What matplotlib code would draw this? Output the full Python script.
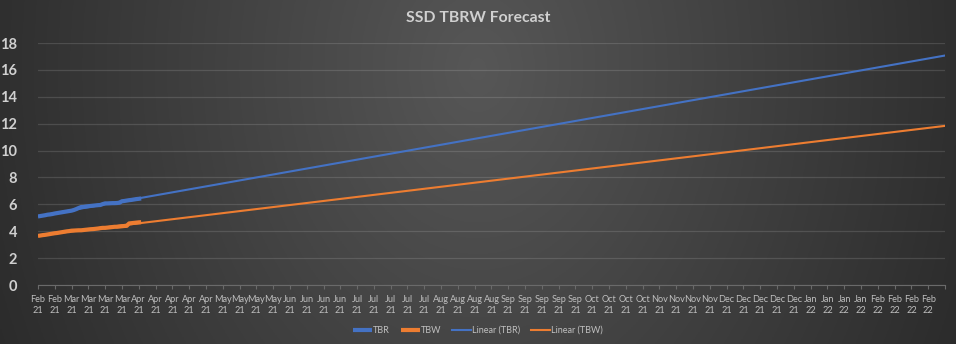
import matplotlib
matplotlib.use("Agg")
import matplotlib.pyplot as plt
import numpy as np
import pandas as pd

plt.rcParams["font.family"] = ["Lato", "DejaVu Sans"]

# Daily readings (TB) starting 18 Feb 2021
START = "2021-02-18"
TBR = [5.10, 5.13, 5.16, 5.19, 5.23, 5.25, 5.28, 5.32, 5.35, 5.38, 5.41, 5.44,
       5.47, 5.50, 5.53, 5.58, 5.65, 5.73, 5.80, 5.81, 5.84, 5.86, 5.88, 5.90,
       5.92, 5.94, 5.95, 6.02, 6.07, 6.07, 6.08, 6.09, 6.09, 6.10, 6.12, 6.23,
       6.25, 6.28, 6.31, 6.33, 6.36, 6.39, 6.41, 6.44]
TBW = [3.65, 3.68, 3.71, 3.73, 3.76, 3.79, 3.82, 3.85, 3.87, 3.90, 3.93, 3.96,
       3.99, 4.01, 4.04, 4.05, 4.06, 4.07, 4.07, 4.09, 4.11, 4.13, 4.15, 4.16,
       4.18, 4.20, 4.23, 4.25, 4.25, 4.27, 4.29, 4.31, 4.33, 4.33, 4.35, 4.37,
       4.39, 4.40, 4.58, 4.60, 4.62, 4.64, 4.66, 4.67]
AXIS_END = "2022-03-03"
Y_TICKS = [0, 2, 4, 6, 8, 10, 12, 14, 16, 18]

BLUE = "#4472C4"
ORANGE = "#ED7D31"
TXT = "#d0d0d0"

dates = pd.date_range(START, periods=len(TBR), freq="D")
start = pd.Timestamp(START)
end = pd.Timestamp(AXIS_END)
days = np.arange(len(TBR))
span = np.array([0, (end - start).days])
trend_dates = start + pd.to_timedelta(span, unit="D")
tbr_fit = np.polyval(np.polyfit(days, TBR, 1), span)
tbw_fit = np.polyval(np.polyfit(days, TBW, 1), span)

fig = plt.figure(figsize=(9.56, 3.44), dpi=100)

# dark radial-ish background
bg = fig.add_axes([0, 0, 1, 1], zorder=-10)
gx, gy = np.meshgrid(np.linspace(0, 1, 400), np.linspace(0, 1, 200))
d = np.sqrt(((gx - 0.5) / 0.55) ** 2 + ((gy - 0.8) / 2.0) ** 2)
shade = np.clip(0.34 - 0.17 * d, 0.14, 0.4)
bg.imshow(np.dstack([shade] * 3), origin="lower", aspect="auto", extent=[0, 1, 0, 1])
bg.axis("off")

ax = fig.add_axes([0.0397, 0.1715, 0.9488, 0.7035])
ax.set_facecolor("none")

ax.plot(dates, TBR, color=BLUE, lw=3.0, label="TBR", solid_capstyle="butt")
ax.plot(dates, TBW, color=ORANGE, lw=3.0, label="TBW", solid_capstyle="butt")
ax.plot(trend_dates, tbr_fit, color=BLUE, lw=1.5, label="Linear (TBR)")
ax.plot(trend_dates, tbw_fit, color=ORANGE, lw=1.5, label="Linear (TBW)")

ax.set_xlim(start, end)
ax.set_ylim(0, 18)
ax.set_yticks(Y_TICKS)
ax.grid(axis="y", color="white", alpha=0.13, lw=0.9)
ax.set_axisbelow(True)

ticks = pd.date_range(start, end, freq="7D")
ax.set_xticks(ticks)
labels = [t.strftime("%b\n%y") for t in ticks]
labels[-1] = ""
ax.set_xticklabels(labels, fontsize=6.6, color="#bfbfbf", linespacing=1.3)
ax.tick_params(axis="x", length=3, color="#6a6a6a", pad=4)
ax.tick_params(axis="y", length=0, pad=15, labelsize=10.5, labelcolor=TXT)
for lbl in ax.get_yticklabels():
    lbl.set_fontweight("bold")

for s in ["top", "right", "left"]:
    ax.spines[s].set_visible(False)
ax.spines["bottom"].set_color("#6a6a6a")

fig.text(0.5, 0.948, "SSD TBRW Forecast", ha="center", va="center",
         fontsize=11.3, fontweight="bold", color=TXT)

fig.legend(loc="center", bbox_to_anchor=(0.5, 0.04), ncol=4, frameon=False,
           fontsize=6.5, labelcolor="#bfbfbf", handlelength=2.1,
           handletextpad=0.1, columnspacing=1.2)

fig.savefig("out.png", dpi=100)
